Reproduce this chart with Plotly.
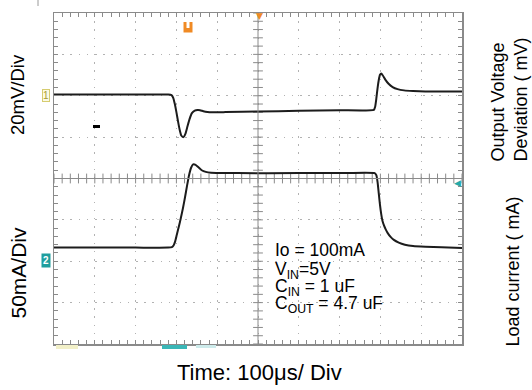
import numpy as np
import plotly.graph_objects as go

# ---------------- data ----------------
# Channel 1: output voltage deviation (mV), 20 mV/div
v_time_us = [0, 100, 200, 280, 288, 292, 296, 300, 304, 308, 312, 317, 322, 327, 332, 338,
             345, 352, 358, 366, 376, 390, 420, 500, 600, 700, 784, 787, 790, 793, 796, 799,
             802, 806, 812, 820, 830, 842, 858, 880, 910, 950, 1000]
v_dev_mv = [0, 0, 0, 0, -0.3, -1.5, -4.5, -8.5, -13, -17, -19.8, -20.6, -19, -15.5, -12, -9,
            -7.8, -7.5, -7.6, -8.1, -8.5, -8.6, -8.5, -8.2, -7.9, -7.6, -7.4, -6, -2, 3, 7, 9.5,
            10.1, 9.2, 7.2, 5.2, 3.6, 2.6, 2.0, 1.7, 1.5, 1.5, 1.4]

# Channel 2: load current (mA), 50 mA/div
i_time_us = [0, 100, 200, 280, 289, 293, 297, 301, 306, 311, 316, 321, 326, 331, 336, 341,
             347, 354, 362, 372, 385, 450, 600, 700, 786, 790, 793, 796, 799, 802, 805, 809,
             813, 818, 825, 833, 845, 860, 880, 910, 950, 1000]
i_load_ma = [14.5, 14.5, 14.5, 14.5, 15, 17, 22, 30, 40, 50.5, 62, 75, 89, 102, 111, 115,
             114.5, 111.5, 108, 106, 105, 104.5, 104.5, 104.5, 104.5, 102, 94, 80, 66, 55, 47, 41,
             36.5, 32, 27.5, 23.8, 20.5, 18, 16.3, 15.4, 14.8, 14.1]

ch1_scale_mv = 20.0   # mV / div
ch2_scale_ma = 50.0   # mA / div
ch1_offset_div = 2.03
ch2_offset_div = -1.96

x_label = "Time: 100μs/ Div"
ch1_label = "20mV/Div"
ch2_label = "50mA/Div"
right1_label = "Output Voltage<br>Deviation ( mV)"
right2_label = "Load current ( mA)"
cond_lines = ["Io = 100mA", "V<sub>IN</sub>=5V", "C<sub>IN</sub> = 1 uF", "C<sub>OUT</sub> = 4.7 uF"]

# ---------------- layout geometry ----------------
W, H = 532, 390
L, R, T, B = 54, 70, 13, 46
PW, PH = W - L - R, H - T - B


def px(x):
    return (x - L) / PW


def py(y):
    return (H - B - y) / PH


FONT = "Liberation Sans, Arial, sans-serif"
GRID = "#b2b2b2"
FRAME = "#8a8a8a"
TRACE = "#1c1c1c"

fig = go.Figure()

ch1_y = [ch1_offset_div + v / ch1_scale_mv for v in v_dev_mv]
ch2_y = [ch2_offset_div + i / ch2_scale_ma for i in i_load_ma]

# graticule ticks along the centre lines
tx = np.arange(0, 1000.1, 20)
fig.add_trace(go.Scatter(x=tx, y=np.zeros_like(tx), mode="markers",
                         marker=dict(symbol="line-ns", size=7, line=dict(width=1, color=FRAME)),
                         hoverinfo="skip", showlegend=False))
ty = np.arange(-4, 4.01, 0.2)
fig.add_trace(go.Scatter(x=np.full_like(ty, 500.0), y=ty, mode="markers",
                         marker=dict(symbol="line-ew", size=7, line=dict(width=1, color=FRAME)),
                         hoverinfo="skip", showlegend=False))

fig.add_trace(go.Scatter(x=v_time_us, y=ch1_y, mode="lines",
                         line=dict(color=TRACE, width=2, shape="spline", smoothing=0.5),
                         hoverinfo="skip", showlegend=False))
fig.add_trace(go.Scatter(x=i_time_us, y=ch2_y, mode="lines",
                         line=dict(color=TRACE, width=2, shape="spline", smoothing=0.5),
                         hoverinfo="skip", showlegend=False))

axis_common = dict(showgrid=True, gridcolor=GRID, gridwidth=1, griddash="1.5px,6.7px",
                   showline=True, linecolor=FRAME, linewidth=1.5, mirror="allticks",
                   ticks="inside", ticklen=4, tickcolor=FRAME, tickwidth=1,
                   showticklabels=False, zeroline=False, fixedrange=True)

fig.update_xaxes(range=[0, 1000], dtick=100, tick0=0,
                 minor=dict(dtick=20, ticks="inside", ticklen=4, tickcolor=FRAME, showgrid=False),
                 **axis_common)
fig.update_yaxes(range=[-4, 4], dtick=1, tick0=0,
                 minor=dict(dtick=0.2, ticks="inside", ticklen=4, tickcolor=FRAME, showgrid=False),
                 **axis_common)

shapes = [
    dict(type="line", xref="x", yref="y", x0=500, x1=500, y0=-4, y1=4,
         line=dict(color=FRAME, width=1)),
    dict(type="line", xref="x", yref="y", x0=0, x1=1000, y0=0, y1=0,
         line=dict(color=FRAME, width=1)),
    dict(type="rect", xref="paper", yref="paper", x0=px(93), x1=px(100), y0=py(128), y1=py(125),
         fillcolor="black", line=dict(width=0)),
    dict(type="rect", xref="paper", yref="paper", x0=px(162), x1=px(187), y0=py(349), y1=py(345),
         fillcolor="#3ab6b6", line=dict(width=0)),
    dict(type="rect", xref="paper", yref="paper", x0=px(56), x1=px(78), y0=py(349), y1=py(345),
         fillcolor="#f2f0c8", line=dict(width=0)),
    dict(type="rect", xref="paper", yref="paper", x0=px(196), x1=px(216), y0=py(348), y1=py(345),
         fillcolor="#cdebeb", line=dict(width=0)),
    dict(type="line", xref="paper", yref="paper", x0=px(38), x1=px(38), y0=py(0), y1=py(6),
         line=dict(color="#9a9a9a", width=1)),
    # orange trigger "U" badge
    dict(type="rect", xref="paper", yref="paper", x0=px(183.5), x1=px(192.5), y0=py(32.5), y1=py(22),
         fillcolor="#f08a24", line=dict(width=0)),
    dict(type="rect", xref="paper", yref="paper", x0=px(186.5), x1=px(189.5), y0=py(28), y1=py(22),
         fillcolor="white", line=dict(width=0)),
]

ann = []
ann.append(dict(text=ch1_label, x=px(17), y=py(95), textangle=-90,
                font=dict(size=18.5, color="black", family=FONT)))
ann.append(dict(text=ch2_label, x=px(17.5), y=py(273), textangle=-90,
                font=dict(size=21, color="black", family=FONT)))
ann.append(dict(text=x_label, x=px(259.5), y=py(372),
                font=dict(size=22, color="black", family=FONT)))
ann.append(dict(text=right1_label, x=px(508.5), y=py(100), textangle=-90, align="left",
                font=dict(size=18, color="black", family=FONT)))
ann.append(dict(text=right2_label, x=px(512.5), y=py(272), textangle=-90,
                font=dict(size=18, color="black", family=FONT)))
for txt, yc in zip(cond_lines, [250, 270, 287, 304]):
    ann.append(dict(text=txt, x=px(273), y=py(yc), xanchor="left",
                    font=dict(size=17.5, color="black", family=FONT)))
# scope markers
ann.append(dict(text="1", x=px(46), y=py(95), font=dict(size=10, color="#a89a30", family=FONT),
                bordercolor="#d6cc70", borderwidth=1, bgcolor="#fbfae4", borderpad=0))
ann.append(dict(text="<b>2</b>", x=px(46), y=py(260), font=dict(size=10, color="white", family=FONT),
                bgcolor="#1f9e9e", borderpad=1))
ann.append(dict(text="▼", x=px(259), y=py(16), font=dict(size=9, color="#f08a24", family="DejaVu Sans")))
ann.append(dict(text="◀", x=px(457), y=py(183), font=dict(size=9, color="#26a9a9", family="DejaVu Sans")))

for a in ann:
    a.setdefault("xref", "paper")
    a.setdefault("yref", "paper")
    a.setdefault("showarrow", False)
    a.setdefault("xanchor", "center")
    a.setdefault("yanchor", "middle")

fig.update_layout(width=W, height=H, margin=dict(l=L, r=R, t=T, b=B, pad=0),
                  paper_bgcolor="white", plot_bgcolor="white",
                  shapes=shapes, annotations=ann, showlegend=False,
                  font=dict(family=FONT))

fig.write_html("out.html", config={"displayModeBar": False, "staticPlot": True},
               post_script="document.body.style.margin='0px';document.body.style.overflow='hidden';")
